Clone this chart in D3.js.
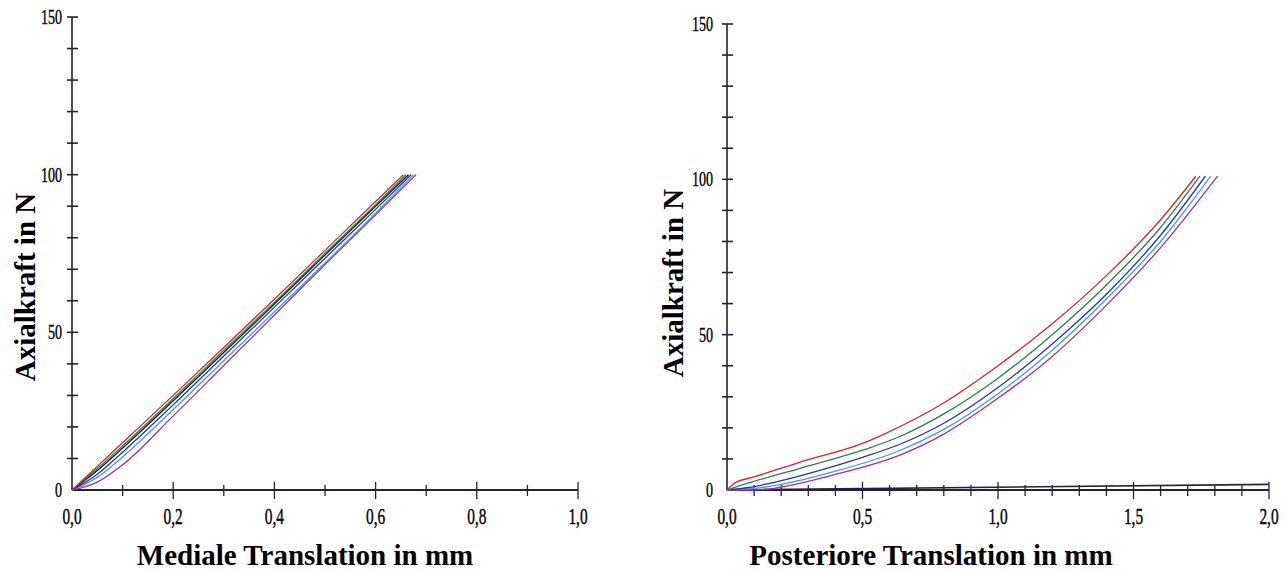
<!DOCTYPE html>
<html>
<head>
<meta charset="utf-8">
<script src="https://cdn.jsdelivr.net/npm/d3@7"></script>
<style>
  body { margin: 0; background: #fff; }
  svg { display: block; }
</style>
</head>
<body>
<div id="chart"></div>
<script>
// left chart: mediale Translation (mm) vs Axialkraft (N)
const medialeRed    = [[0,0],[0.05,7.5],[0.1,15],[0.2,30],[0.3,45.2],[0.4,60.5],[0.5,76],[0.6,91.5],[0.655,100]];
const medialeGreen  = [[0,0],[0.05,6.8],[0.1,14],[0.2,29],[0.3,44.3],[0.4,59.5],[0.5,75],[0.6,90.5],[0.66,100]];
const medialeBlack  = [[0,0],[0.05,6.2],[0.1,13.3],[0.2,28.3],[0.3,43.6],[0.4,59],[0.5,74.5],[0.6,90],[0.665,100]];
const medialeBlue   = [[0,0],[0.05,5],[0.1,12],[0.2,27],[0.3,42.5],[0.4,58],[0.5,73.5],[0.6,89],[0.67,100]];
const medialeLight  = [[0,0],[0.05,4],[0.1,10.5],[0.2,25.5],[0.3,41],[0.4,56.5],[0.5,72],[0.6,87.8],[0.675,100]];
const medialePurple = [[0,0],[0.05,2.5],[0.1,8],[0.2,23.5],[0.3,39.5],[0.4,55.5],[0.5,71.5],[0.6,87.3],[0.68,100]];

// right chart: posteriore Translation (mm) vs Axialkraft (N)
const postRed    = [[0,0],[0.03,2.3],[0.1,4.2],[0.27,9],[0.5,15],[0.58,18],[0.79,27.5],[1.0,40],[1.2,53.5],[1.4,69],[1.6,87],[1.73,101]];
const postGreen  = [[0,0],[0.05,1.5],[0.1,2.8],[0.27,7],[0.5,12.8],[0.64,17.3],[0.8,24.5],[1.0,36],[1.2,50],[1.4,66],[1.6,84.5],[1.745,101]];
const postBlue   = [[0,0],[0.08,0.8],[0.15,2],[0.3,5.3],[0.5,10.5],[0.64,14.8],[0.8,21.5],[1.0,33],[1.2,47],[1.4,63],[1.6,82],[1.765,101]];
const postLight  = [[0,0],[0.1,0.5],[0.2,1.8],[0.39,5.8],[0.64,12.8],[0.8,19.5],[1.0,31],[1.2,45],[1.4,61.5],[1.6,80],[1.785,101]];
const postPurple = [[0,0],[0.1,0],[0.15,0.3],[0.39,4.8],[0.64,11.3],[0.8,18],[0.98,28.3],[1.2,43],[1.4,59.5],[1.6,78],[1.81,101]];
const postReturn = [[0,0],[2.0,1.8]];

const yTicks = d3.range(0, 151, 10);
const yLabels = [0, 50, 100, 150];
const leftXTicks = d3.range(1, 11).map(d => d / 10);
const leftXLabels = [0, 0.2, 0.4, 0.6, 0.8, 1.0];
const rightXTicks = d3.range(1, 21).map(d => d / 10);
const rightXLabels = [0, 0.5, 1.0, 1.5, 2.0];

const colors = ["#e0202a", "#1c8a3c", "#151515", "#2430c8", "#3a9cf0", "#a82aa8"];
const axisColor = "#22223a";
const fmt = d => d3.format(".1f")(d).replace(".", ",");

const svg = d3.select("#chart").append("svg")
    .attr("width", 1288)
    .attr("height", 571);

function drawPanel(opt) {
    const x = d3.scaleLinear().domain(opt.xDomain).range(opt.xRange);
    const y = d3.scaleLinear().domain([0, 150]).range(opt.yRange);
    const g = svg.append("g");
    const line = d3.line().x(d => x(d[0])).y(d => y(d[1])).curve(d3.curveMonotoneX);
    const isLabel = d => opt.xLabels.some(l => Math.abs(l - d) < 1e-9);

    // axes
    g.append("line")
        .attr("x1", x(0)).attr("x2", x(0))
        .attr("y1", y(0)).attr("y2", y(150))
        .attr("stroke", axisColor).attr("stroke-width", 1.6);
    g.append("line")
        .attr("x1", x(0)).attr("x2", x(opt.xDomain[1]))
        .attr("y1", y(0)).attr("y2", y(0))
        .attr("stroke", axisColor).attr("stroke-width", 2);

    g.selectAll("line.yt").data(yTicks.filter(d => d > 0)).enter().append("line")
        .attr("x1", x(0) - 5).attr("x2", x(0) + 6)
        .attr("y1", d => y(d)).attr("y2", d => y(d))
        .attr("stroke", axisColor).attr("stroke-width", 1.6);

    g.selectAll("line.xt").data(opt.xTicks).enter().append("line")
        .attr("x1", d => x(d)).attr("x2", d => x(d))
        .attr("y1", d => y(0) - (isLabel(d) ? 8 : 5))
        .attr("y2", d => y(0) + (isLabel(d) ? 9 : 6))
        .attr("stroke", axisColor).attr("stroke-width", 1.3);

    // tick labels
    g.selectAll("text.yl").data(yLabels).enter().append("text")
        .attr("transform", d => `translate(${x(0) - opt.yLabelGap},${y(d) + 7}) scale(0.64,1)`)
        .attr("text-anchor", "end")
        .attr("font-family", "Liberation Serif, serif")
        .attr("font-size", 22)
        .attr("fill", "#000")
        .attr("stroke", "#000").attr("stroke-width", 0.4)
        .text(d => d);

    g.selectAll("text.xl").data(opt.xLabels).enter().append("text")
        .attr("transform", d => `translate(${x(d)},${y(0) + 34}) scale(0.64,1)`)
        .attr("text-anchor", "middle")
        .attr("font-family", "Liberation Serif, serif")
        .attr("font-size", 24)
        .attr("fill", "#000")
        .attr("stroke", "#000").attr("stroke-width", 0.4)
        .text(fmt);

    // titles
    g.append("text")
        .attr("transform", `translate(${opt.yTitleX},${opt.yTitleY}) rotate(-90)`)
        .attr("text-anchor", "middle")
        .attr("font-family", "Liberation Serif, serif")
        .attr("font-weight", "bold")
        .attr("font-size", 29)
        .attr("fill", "#000")
        .text("Axialkraft in N");
    g.append("text")
        .attr("x", opt.xTitleX).attr("y", 565)
        .attr("text-anchor", "middle")
        .attr("font-family", "Liberation Serif, serif")
        .attr("font-weight", "bold")
        .attr("font-size", 29)
        .attr("fill", "#000")
        .text(opt.xTitle);

    // data
    if (opt.baseline) {
        g.append("path").datum(opt.baseline)
            .attr("d", d3.line().x(d => x(d[0])).y(d => y(d[1])))
            .attr("fill", "none").attr("stroke", axisColor).attr("stroke-width", 1.6);
    }
    g.selectAll("path.curve").data(opt.series).enter().append("path")
        .attr("d", d => line(d.values))
        .attr("fill", "none")
        .attr("stroke", d => d.color)
        .attr("stroke-width", 1.3);
}

drawPanel({
    xDomain: [0, 1.0],
    xRange: [72, 578],
    yRange: [490, 17],
    xTicks: leftXTicks,
    xLabels: leftXLabels,
    yLabelGap: 10,
    yTitleX: 35, yTitleY: 287,
    xTitleX: 305,
    xTitle: "Mediale Translation in mm",
    series: [
        { values: medialePurple, color: colors[5] },
        { values: medialeLight, color: colors[4] },
        { values: medialeBlue, color: colors[3] },
        { values: medialeBlack, color: colors[2] },
        { values: medialeGreen, color: colors[1] },
        { values: medialeRed, color: colors[0] }
    ]
});

drawPanel({
    xDomain: [0, 2.0],
    xRange: [727, 1269],
    yRange: [490, 24],
    xTicks: rightXTicks,
    xLabels: rightXLabels,
    yLabelGap: 14,
    yTitleX: 683, yTitleY: 283,
    xTitleX: 931,
    xTitle: "Posteriore Translation in mm",
    baseline: postReturn,
    series: [
        { values: postPurple, color: colors[5] },
        { values: postLight, color: colors[4] },
        { values: postBlue, color: colors[3] },
        { values: postGreen, color: colors[1] },
        { values: postRed, color: colors[0] }
    ]
});
</script>
</body>
</html>
